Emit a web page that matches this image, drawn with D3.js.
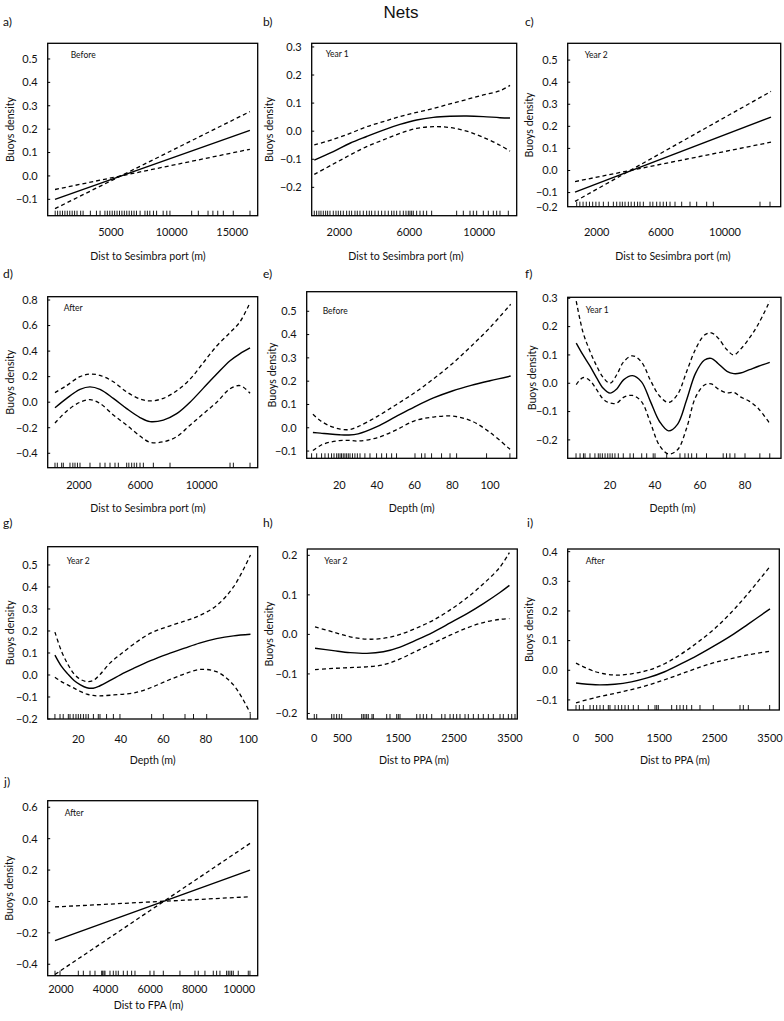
<!DOCTYPE html>
<html><head><meta charset="utf-8">
<script src="https://cdn.jsdelivr.net/npm/d3@7"></script>
<style>
html,body{margin:0;padding:0;background:#fff;}
svg{display:block;}
text{font-family:Lato,"Liberation Sans",sans-serif;fill:#111;}
</style></head>
<body>
<svg id="chart" width="784" height="1021"></svg>
<script>
// ---------------- DATA ----------------
const title = "Nets";
const yTitle = "Buoys density";

// a) Before, Dist to Sesimbra port (linear term: the two CI lines cross)
const aX = [383, 16450];
const aFit = [-0.100, 0.195];
const aCI1 = [-0.058, 0.114];
const aCI2 = [-0.140, 0.275];
const aRug = [400,600,800,1000,1200,1400,1600,1800,2000,2200,2500,2700,3300,3800,4100,4500,4700,4900,5100,5300,5500,5700,5900,6100,6300,6500,6700,6900,7100,7400,7800,8000,8200,8500,8760,9300,9600,9860,11650,12200,13000,13400,13800,14260,15080,16460];

// b) Year 1, Dist to Sesimbra port
const bX = [571, 1657, 2610, 3560, 4515, 5467, 6420, 7372, 8325, 9277, 10230, 11180, 11754];
const bFit = [-0.103, -0.073, -0.043, -0.019, 0.004, 0.024, 0.040, 0.049, 0.053, 0.054, 0.052, 0.048, 0.047];
const bCI1 = [-0.049, -0.029, -0.008, 0.016, 0.034, 0.052, 0.067, 0.081, 0.097, 0.113, 0.129, 0.144, 0.163];
const bCI2 = [-0.154, -0.117, -0.085, -0.055, -0.031, -0.008, 0.010, 0.016, 0.013, 0.000, -0.022, -0.050, -0.071];
const bRug = [571,705,838,952,1086,1219,1333,1467,1657,1810,1943,2076,2229,2419,2572,2705,2895,3029,3181,3372,3562,3715,3848,4038,4229,4419,4610,4800,4991,5124,5277,5467,5658,5810,5943,6039,6134,6229,6420,6610,6801,6991,7277,8706,9087,9468,9658,9849,10230,10515,10801,10992,11182,11658];

// c) Year 2, Dist to Sesimbra port (linear term)
const cX = [649, 12868];
const cFit = [-0.098, 0.242];
const cCI1 = [-0.050, 0.128];
const cCI2 = [-0.140, 0.358];
const cRug = [753,950,1150,1350,1550,1750,1950,2150,2416,2727,3039,3247,3450,3600,3766,3974,4150,4350,4550,4701,4909,5325,5500,5740,5948,6150,6350,6572,6883,7299,7818,8234,8857,9273,12182,12806];

// d) After, Dist to Sesimbra port
const dX = [435, 1196, 2065, 2717, 3370, 4239, 5109, 5978, 6630, 7500, 8370, 9239, 10109, 10978, 11848, 12500, 13152];
const dFit = [-0.044, 0.030, 0.100, 0.120, 0.100, 0.030, -0.050, -0.120, -0.152, -0.140, -0.090, 0.000, 0.110, 0.220, 0.325, 0.380, 0.425];
const dCI1 = [0.075, 0.130, 0.200, 0.220, 0.210, 0.160, 0.080, 0.025, 0.010, 0.030, 0.090, 0.180, 0.310, 0.440, 0.545, 0.630, 0.780];
const dCI2 = [-0.163, -0.070, 0.000, 0.020, -0.010, -0.100, -0.180, -0.265, -0.314, -0.310, -0.270, -0.180, -0.090, 0.000, 0.105, 0.130, 0.070];
const dRug = [435,587,870,978,1413,1600,1739,1900,2065,2717,3370,3696,4022,4348,4565,5109,5250,5435,5600,5761,5978,6196,6848,7935,11848,12065,13152];

// e) Before, Depth
const eX = [6, 10, 15, 20, 25, 30, 40, 50, 60, 70, 80, 90, 100, 111];
const eFit = [-0.020, -0.023, -0.027, -0.030, -0.031, -0.026, 0.005, 0.048, 0.090, 0.128, 0.158, 0.182, 0.202, 0.222];
const eCI1 = [0.058, 0.030, 0.008, -0.005, -0.008, 0.005, 0.048, 0.098, 0.150, 0.210, 0.275, 0.350, 0.430, 0.530];
const eCI2 = [-0.098, -0.076, -0.062, -0.055, -0.054, -0.057, -0.043, -0.010, 0.030, 0.046, 0.050, 0.030, -0.020, -0.095];
const eRug = [5.3,8,10.6,12.4,14.2,15.9,17.2,18.6,19.5,20.4,21.2,22.1,23,23.9,24.8,25.7,27,28.3,29.6,31,33.6,36.3,39.8,42.5,45.1,47.8,50.4,60.2,63.7,65.5,69,74.3,78.8,82.3,98.2,110.6];

// f) Year 1, Depth
const fX = [5, 8, 11, 14, 17, 20, 23, 26, 30, 34, 38, 42, 46, 50, 54, 58, 62, 65, 68, 72, 75, 78, 82, 86, 91];
const fFit = [0.142, 0.100, 0.062, 0.020, -0.018, -0.035, -0.020, 0.012, 0.027, 0.005, -0.065, -0.135, -0.168, -0.145, -0.060, 0.035, 0.082, 0.088, 0.070, 0.042, 0.034, 0.036, 0.048, 0.060, 0.074];
const fCI1 = [0.290, 0.180, 0.115, 0.062, 0.020, 0.000, 0.030, 0.075, 0.097, 0.075, 0.010, -0.045, -0.068, -0.040, 0.040, 0.120, 0.170, 0.178, 0.160, 0.118, 0.100, 0.120, 0.160, 0.210, 0.290];
const fCI2 = [-0.005, 0.020, 0.010, -0.022, -0.056, -0.070, -0.070, -0.050, -0.043, -0.065, -0.140, -0.220, -0.250, -0.235, -0.160, -0.050, -0.006, -0.002, -0.020, -0.034, -0.032, -0.048, -0.064, -0.090, -0.142];
const fRug = [4.9,6.7,8.2,8.9,11.1,13.3,14.8,15.6,16.6,17.8,19,20,21,22.2,23.7,25.9,28.9,30.4,34.1,36.3,39.2,40,45.2,51.1,53.3,54.8,56.3,58.5,62.9,70.3,71.8,73.3,75.5,80,86.6,91];

// g) Year 2, Depth
const gX = [9, 12, 15, 18, 21, 24, 27, 30, 35, 40, 46, 54, 62, 70, 77, 85, 93, 101];
const gFit = [0.090, 0.040, 0.005, -0.025, -0.045, -0.058, -0.060, -0.050, -0.025, 0.002, 0.030, 0.065, 0.095, 0.122, 0.145, 0.165, 0.178, 0.185];
const gCI1 = [0.195, 0.110, 0.050, 0.005, -0.020, -0.030, -0.025, 0.000, 0.055, 0.095, 0.140, 0.190, 0.220, 0.245, 0.270, 0.315, 0.400, 0.545];
const gCI2 = [-0.010, -0.030, -0.045, -0.060, -0.075, -0.087, -0.093, -0.095, -0.092, -0.088, -0.082, -0.058, -0.025, 0.005, 0.025, 0.015, -0.045, -0.175];
const gRug = [9,11.4,12.9,15.3,16.1,17.6,18.9,20,21.1,22.4,23.6,24.7,27.1,29.4,30.2,33.3,36.5,39.6,54.5,60,70.2,74.2,80.4,100.9];

// h) Year 2, Dist to PPA
const hX = [13, 340, 640, 940, 1235, 1535, 1830, 2130, 2430, 2725, 3025, 3320, 3490];
const hFit = [-0.035, -0.041, -0.046, -0.048, -0.044, -0.032, -0.014, 0.006, 0.029, 0.052, 0.078, 0.106, 0.124];
const hCI1 = [0.019, 0.006, -0.006, -0.012, -0.010, 0.000, 0.016, 0.036, 0.062, 0.092, 0.128, 0.170, 0.207];
const hCI2 = [-0.089, -0.086, -0.084, -0.082, -0.077, -0.062, -0.042, -0.022, -0.002, 0.016, 0.030, 0.038, 0.040];
const hRug = [0,43,311,352,400,447,490,848,877,907,937,966,1032,1056,1295,1354,1474,1503,1533,1832,1891,1950,2010,2100,2279,2338,2428,2487,2547,2606,2696,2755,2845,2934,3023,3113,3202,3322,3381,3471,3531,3590];

// i) After, Dist to PPA
const iX = [0, 350, 700, 1000, 1300, 1600, 1900, 2200, 2500, 2800, 3100, 3500];
const iFit = [-0.043, -0.049, -0.047, -0.039, -0.025, -0.005, 0.022, 0.051, 0.083, 0.117, 0.155, 0.207];
const iCI1 = [0.024, -0.005, -0.016, -0.012, 0.000, 0.022, 0.055, 0.095, 0.140, 0.195, 0.258, 0.350];
const iCI2 = [-0.110, -0.092, -0.078, -0.065, -0.050, -0.032, -0.012, 0.008, 0.026, 0.039, 0.052, 0.064];
const iRug = [0,60,132,253,313,373,433,493,583,613,704,764,824,884,944,1034,1124,1305,1425,1456,1485,1726,1817,1876,1936,1997,2087,2237,2477,2959,3019,3109,3494];

// j) After, Dist to FPA (linear term)
const jX = [1730, 10480];
const jFit = [-0.250, 0.200];
const jCI1 = [-0.035, 0.030];
const jCI2 = [-0.465, 0.370];
const jRug = [1731,1955,2777,3002,3301,3525,3824,3869,3929,3973,4198,4347,4467,4571,4796,4975,5169,5319,5992,6171,6590,7337,8010,8159,8458,8832,8982,9131,9430,9505,9580,9654,9729,9953,10402,10477];

// tick values
const ticksPortA = [5000, 10000, 15000];
const ticksPort = [2000, 6000, 10000];
const ticksDepthE = [20, 40, 60, 80, 100];
const ticksDepthF = [20, 40, 60, 80];
const ticksPPA = [0, 500, 1500, 2500, 3500];
const ticksFPA = [2000, 4000, 6000, 8000, 10000];
const yTicksA = [0.5, 0.4, 0.3, 0.2, 0.1, 0.0, -0.1];
const yTicksB = [0.3, 0.2, 0.1, 0.0, -0.1, -0.2];
const yTicksC = [0.5, 0.4, 0.3, 0.2, 0.1, 0.0, -0.1, -0.2];
const yTicksD = [0.8, 0.6, 0.4, 0.2, 0.0, -0.2, -0.4];
const yTicksE = [0.5, 0.4, 0.3, 0.2, 0.1, 0.0, -0.1];
const yTicksF = [0.3, 0.2, 0.1, 0.0, -0.1, -0.2];
const yTicksG = [0.5, 0.4, 0.3, 0.2, 0.1, 0.0, -0.1, -0.2];
const yTicksH = [0.2, 0.1, 0.0, -0.1, -0.2];
const yTicksI = [0.4, 0.3, 0.2, 0.1, 0.0, -0.1];
const yTicksJ = [0.6, 0.4, 0.2, 0.0, -0.2, -0.4];

// ---------------- LAYOUT ----------------
const panels = [
  {tag:"a)", tagX:3, tagY:26, period:"Before", pdx:23, pdy:15, box:[47.7,43.3,257.7,215.7], xd:[-218,17094], yd:[-0.170,0.567], xt:ticksPortA, yt:yTicksA, tickY:232.3, xTitle:"Dist to Sesimbra port (m)", xTitleX:148, xTitleY:256.7, yTitleX:10, x:aX, fit:aFit, c1:aCI1, c2:aCI2, rug:aRug},
  {tag:"b)", tagX:263, tagY:26, period:"Year 1", pdx:14, pdy:14, box:[311.7,43.3,516.7,215.7], xd:[423,12137], yd:[-0.301,0.313], xt:ticksPort, yt:yTicksB, tickY:232.3, xTitle:"Dist to Sesimbra port (m)", xTitleX:406, xTitleY:256.7, yTitleX:269, x:bX, fit:bFit, c1:bCI1, c2:bCI2, rug:bRug},
  {tag:"c)", tagX:525, tagY:26, period:"Year 2", pdx:17, pdy:15, box:[567.7,43.3,780.7,206.7], xd:[192,13473], yd:[-0.164,0.576], xt:ticksPort, yt:yTicksC, tickY:232.3, xTitle:"Dist to Sesimbra port (m)", xTitleX:673, xTitleY:256.7, yTitleX:529, x:cX, fit:cFit, c1:cCI1, c2:cCI2, rug:cRug},
  {tag:"d)", tagX:3, tagY:278, period:"After", pdx:16, pdy:14, box:[47.7,296.7,257.7,467.7], xd:[-40,13651], yd:[-0.513,0.826], xt:ticksPort, yt:yTicksD, tickY:485.5, xTitle:"Dist to Sesimbra port (m)", xTitleX:148, xTitleY:508.3, yTitleX:10, x:dX, fit:dFit, c1:dCI1, c2:dCI2, rug:dRug},
  {tag:"e)", tagX:263, tagY:278, period:"Before", pdx:16, pdy:22, box:[306.7,291.7,516.7,458.3], xd:[2.7,114.2], yd:[-0.131,0.584], xt:ticksDepthE, yt:yTicksE, tickY:485.5, xTitle:"Depth (m)", xTitleX:411.7, xTitleY:508.3, yTitleX:272, x:eX, fit:eFit, c1:eCI1, c2:eCI2, rug:eRug},
  {tag:"f)", tagX:525, tagY:278, period:"Year 1", pdx:18, pdy:15.5, box:[567.7,297.3,781,458.3], xd:[1.2,96], yd:[-0.265,0.3035], xt:ticksDepthF, yt:yTicksF, tickY:485.5, xTitle:"Depth (m)", xTitleX:672.5, xTitleY:508.3, yTitleX:532, x:fX, fit:fFit, c1:fCI1, c2:fCI2, rug:fRug},
  {tag:"g)", tagX:3, tagY:527, period:"Year 2", pdx:19, pdy:17, box:[47.7,546.7,257.7,719], xd:[5.6,104.4], yd:[-0.2,0.583], xt:ticksDepthE, yt:yTicksG, tickY:739, xTitle:"Depth (m)", xTitleX:152.7, xTitleY:760.7, yTitleX:10, x:gX, fit:gFit, c1:gCI1, c2:gCI2, rug:gRug},
  {tag:"h)", tagX:263, tagY:527, period:"Year 2", pdx:17, pdy:14.5, box:[307.3,549,517.3,719], xd:[-125,3631], yd:[-0.214,0.216], xt:ticksPPA, yt:yTicksH, tickY:738.5, xTitle:"Dist to PPA (m)", xTitleX:414, xTitleY:760.7, yTitleX:269, x:hX, fit:hFit, c1:hCI1, c2:hCI2, rug:hRug},
  {tag:"i)", tagX:527, tagY:527, period:"After", pdx:18, pdy:15, box:[567.7,549,779.3,710], xd:[-150,3668], yd:[-0.134,0.409], xt:ticksPPA, yt:yTicksI, tickY:738.5, xTitle:"Dist to PPA (m)", xTitleX:675, xTitleY:760.7, yTitleX:529.5, x:iX, fit:iFit, c1:iCI1, c2:iCI2, rug:iRug},
  {tag:"j)", tagX:4, tagY:786, period:"After", pdx:17, pdy:15, box:[47.7,800.7,257.7,975.7], xd:[1403,10825], yd:[-0.473,0.642], xt:ticksFPA, yt:yTicksJ, tickY:989.3, xTitle:"Dist to FPA (m)", xTitleX:148.5, xTitleY:1005, yTitleX:9, x:jX, fit:jFit, c1:jCI1, c2:jCI2, rug:jRug}
];

// ---------------- DRAW ----------------
const svg = d3.select("#chart");
svg.append("rect").attr("width",784).attr("height",1021).attr("fill","#fff");

svg.append("text").attr("x",401).attr("y",18).attr("text-anchor","middle")
  .style("font-family","'Liberation Sans',Arial,sans-serif").style("font-size","17px").text(title);

const fmt = v => (v < 0 ? "\u2212" : "") + Math.abs(v).toFixed(1);

panels.forEach((p, k) => {
  const [x0,y0,x1,y1] = p.box;
  const xs = d3.scaleLinear().domain(p.xd).range([x0,x1]);
  const ys = d3.scaleLinear().domain(p.yd).range([y1,y0]);
  const g = svg.append("g");

  const clipId = "clip"+k;
  g.append("clipPath").attr("id",clipId).append("rect")
    .attr("x",x0).attr("y",y0).attr("width",x1-x0).attr("height",y1-y0);

  g.append("text").attr("x",p.tagX).attr("y",p.tagY).style("font-size","12px").text(p.tag);

  p.yt.forEach(t => {
    const yy = ys(t);
    if (yy <= y1 + 0.5) {
      g.append("line").attr("x1",x0).attr("x2",x0+2.5).attr("y1",yy).attr("y2",yy)
        .attr("stroke","#000").attr("stroke-width",1);
    }
    g.append("text").attr("x",x0-10).attr("y",Math.min(yy, y1)).attr("dy","0.35em")
      .attr("text-anchor","end").style("font-size","11px").text(fmt(t));
  });

  p.xt.forEach(t => {
    g.append("text").attr("x",xs(t)).attr("y",p.tickY).attr("dy","0.35em")
      .attr("text-anchor","middle").style("font-size","11px").text(t);
  });

  g.append("text").attr("x",p.xTitleX).attr("y",p.xTitleY).attr("dy","0.35em")
    .attr("text-anchor","middle").style("font-size","10.6px").text(p.xTitle);
  g.append("text").attr("transform",`translate(${p.yTitleX},${(y0+y1)/2}) rotate(-90)`)
    .attr("dy","0.35em").attr("text-anchor","middle").style("font-size","10.6px").text(yTitle);

  g.append("g").selectAll("line").data(p.rug).join("line")
    .attr("x1",d=>xs(d)).attr("x2",d=>xs(d)).attr("y1",y1).attr("y2",y1-5)
    .attr("stroke","#000").attr("stroke-width",0.9);

  const mk = arr => p.x.map((xv,i)=>[xv, arr[i]]);
  const line = d3.line().x(d=>xs(d[0])).y(d=>ys(d[1])).curve(d3.curveCatmullRom.alpha(0.5));
  const cg = g.append("g").attr("clip-path",`url(#${clipId})`);
  [p.c1, p.c2].forEach(arr => {
    cg.append("path").attr("d",line(mk(arr))).attr("fill","none").attr("stroke","#000")
      .attr("stroke-width",1.3).attr("stroke-dasharray","4,3");
  });
  cg.append("path").attr("d",line(mk(p.fit))).attr("fill","none").attr("stroke","#000")
    .attr("stroke-width",1.4);

  g.append("text").attr("x",x0+p.pdx).attr("y",y0+p.pdy).style("font-size","8.5px").text(p.period);

  g.append("rect").attr("x",x0).attr("y",y0).attr("width",x1-x0).attr("height",y1-y0)
    .attr("fill","none").attr("stroke","#000").attr("stroke-width",1.3);
});
</script>
</body></html>
